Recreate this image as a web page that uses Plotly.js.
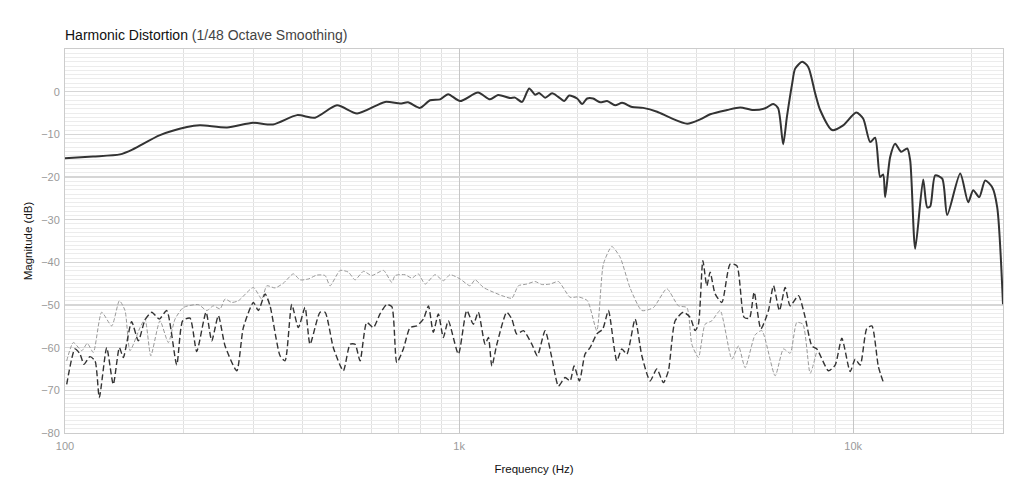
<!DOCTYPE html>
<html><head><meta charset="utf-8">
<script src="https://cdn.plot.ly/plotly-3.0.1.min.js"></script>
<style>html,body{margin:0;padding:0;background:#fff}#chart{width:1024px;height:502px}</style>
</head><body><div id="chart"></div>
<script>
// Fundamental (solid)
const mainFreq=[100,117.8,137.9,148.8,174.2,204,220,257.8,300,337,388,431,490,551,649,709,742,796,844,895,938,1006,1117,1198,1256,1347,1387,1445,1506,1559,1596,1654,1722,1784,1848,1902,1993,2052,2113,2188,2280,2375,2489,2593,2748,2931,3180,3432,3791,4090,4337,4789,5168,5576,5980,6267,6451,6643,6790,7002,7126,7424,7689,8010,8246,8845,9432,10177,10600,11044,11370,11707,11915,12056,12413,12782,13238,13711,13954,14369,15057,15413,15685,16151,16826,17325,18690,19584,20165,20890,21627,22532,23203,24000];
const mainDb=[-15.6,-15.2,-14.7,-13.5,-10.2,-8.3,-7.9,-8.4,-7.3,-7.7,-5.5,-6.1,-3.2,-5.1,-2.4,-2.8,-2.5,-3.8,-2.0,-1.8,-0.6,-2.2,-0.2,-1.8,-0.8,-1.5,-1.4,-2.4,0.75,-0.7,-0.3,-1.4,-0.4,-1.2,-2.2,-0.9,-1.6,-2.9,-1.6,-1.6,-2.5,-2.2,-3.2,-2.6,-3.6,-3.8,-4.7,-6.1,-7.5,-6.5,-5.3,-4.3,-3.7,-4.3,-3.9,-2.9,-3.9,-12.3,-5.9,1.9,5.4,7.0,5.8,-0.4,-4.3,-9.0,-7.9,-4.9,-6.3,-11.8,-10.8,-20.0,-19.4,-24.7,-15.3,-12.2,-14.1,-13.3,-16.1,-36.8,-20.6,-27.1,-26.9,-19.6,-20.4,-28.9,-19.2,-25.9,-23.1,-24.7,-20.8,-22.4,-27.1,-49.8];

// 2nd harmonic (dark dashed)
const h2Freq=[101,106,109.2,111.7,115.7,119.2,122.2,127.6,132.6,137.4,140.6,147.6,153.5,159.6,166,173.5,181.2,192.1,198.9,207.6,215.9,228,235.7,245,254.8,272.8,283.5,300.6,309.5,321.9,331.4,351.3,361.7,376.2,391,406.5,418.6,443.8,457,479.7,508.5,528.9,544.6,560.7,583,606,630,655,675,695,722,751,781,812,836,860,886,912,939,996,1046,1087,1119,1164,1187,1211,1247,1321,1361,1401,1456,1530,1580,1653,1719,1787,1858,1913,1958,2020,2088,2150,2236,2316,2393,2513,2588,2665,2797,2909,3053,3175,3300,3398,3534,3709,3858,3972,4049,4155,4253,4336,4464,4643,4874,5068,5289,5455,5607,5831,6096,6277,6500,6721,6920,7264,7554,7857,8089,8656,9001,9361,9826,10120,10420,10830,11155,11590,11940];
const h2Db=[-68.6,-60.3,-61.5,-63.9,-62.1,-63.1,-71.7,-60.0,-68.6,-60.0,-62.3,-53.9,-58.4,-53.5,-51.7,-53.3,-51.3,-64.0,-53.7,-53.1,-60.9,-51.7,-58.4,-52.5,-59.6,-65.4,-55.3,-49.4,-51.3,-47.4,-50.2,-61.9,-63.1,-49.9,-55.3,-50.6,-59.2,-51.7,-51.7,-60.0,-65.4,-59.2,-59.2,-63.1,-54.1,-55.3,-52.1,-49.9,-50.4,-63.5,-60.3,-55.3,-54.9,-53.3,-50.2,-56.4,-52.1,-57.6,-53.7,-61.5,-51.3,-54.5,-51.7,-59.2,-57.6,-64.3,-59.2,-51.7,-53.3,-56.8,-56.0,-59.2,-61.9,-56.0,-62.3,-69.0,-67.0,-67.8,-64.3,-67.8,-61.5,-60.0,-56.8,-55.6,-51.3,-63.1,-60.3,-61.5,-53.3,-61.9,-67.8,-65.0,-68.2,-65.4,-53.7,-51.7,-52.9,-56.0,-54.5,-39.6,-45.5,-42.3,-47.4,-49.4,-40.4,-40.8,-52.9,-53.1,-47.0,-55.6,-51.3,-45.5,-51.3,-45.9,-50.2,-47.8,-52.9,-59.6,-60.3,-65.4,-64.1,-57.8,-65.6,-62.7,-64.1,-55.5,-54.9,-64.5,-68.2];

// 3rd harmonic (light dashed)
const h3Freq=[101,105,110.3,113.9,118,123.9,131.4,137.4,142,146.2,155,159.6,165.1,174.2,182.9,190.2,199.6,217.9,229,237.9,247.5,254.8,264.9,275.4,300.6,315.7,325.1,341.2,358.1,379.7,394.9,414.5,435.3,457,470.6,498.9,523.7,544.6,572,600,643,675,688,729,759,788,820,869,912,949,1006,1066,1098,1153,1222,1284,1361,1414,1485,1559,1621,1702,1787,1913,2008,2117,2236,2324,2441,2562,2716,2909,3113,3366,3603,3784,3896,4049,4211,4379,4597,4923,5116,5320,5640,5865,6339,6654,6920,7195,7454,7779,8089];
const h3Db=[-63.1,-58.8,-60.7,-59.0,-61.1,-51.7,-54.9,-49.0,-51.3,-60.7,-55.3,-53.3,-61.9,-53.7,-58.8,-53.3,-50.6,-49.9,-51.3,-50.2,-50.9,-48.6,-49.4,-49.0,-45.9,-48.6,-45.5,-46.0,-44.9,-42.7,-44.1,-43.9,-43.0,-43.1,-45.5,-41.9,-42.3,-44.1,-42.1,-43.1,-41.9,-44.7,-43.1,-42.9,-43.7,-42.7,-45.1,-42.9,-44.3,-42.9,-43.9,-45.5,-44.1,-45.9,-47.0,-47.8,-48.4,-45.5,-45.1,-44.5,-45.2,-45.1,-44.5,-48.2,-48.1,-49.0,-56.0,-40.4,-36.3,-38.8,-46.0,-51.3,-50.6,-46.2,-50.2,-50.6,-59.2,-62.3,-54.5,-53.7,-51.3,-62.7,-59.6,-64.7,-57.0,-56.0,-66.6,-60.3,-61.3,-54.1,-54.5,-66.0,-60.7];

const xTickVals=[100,1000,10000];
const xTickText=['100','1k','10k'];
const yTickVals=[-80,-70,-60,-50,-40,-30,-20,-10,0];

const minorX=[];
for(let d=100; d<=10000; d*=10){ for(let k=2;k<=9;k++){ if(d*k<24000) minorX.push(d*k); } }

const FONT='"Liberation Sans", Arial, Helvetica, sans-serif';

const traces=[
  {x:h3Freq,y:h3Db,type:'scatter',mode:'lines',line:{color:'#9a9a9a',width:1,dash:'4px,2px',shape:'spline',smoothing:0.6},hoverinfo:'skip'},
  {x:h2Freq,y:h2Db,type:'scatter',mode:'lines',line:{color:'#333333',width:1.4,dash:'6px,3px',shape:'spline',smoothing:0.6},hoverinfo:'skip'},
  {x:mainFreq,y:mainDb,type:'scatter',mode:'lines',line:{color:'#333333',width:2,shape:'spline',smoothing:0.7},hoverinfo:'skip'}
];

const layout={
  width:1024,height:502,
  margin:{l:65,r:21,t:49,b:69},
  paper_bgcolor:'#fff',plot_bgcolor:'#fff',
  showlegend:false,
  font:{family:FONT,color:'#111'},
  title:{text:'Harmonic Distortion <span style="color:#444">(1/48 Octave Smoothing)</span>',
    font:{family:FONT,size:14,color:'#111'},x:0,xref:'paper',xanchor:'left',yref:'container',y:0.930,yanchor:'middle'},
  xaxis:{type:'log',range:[2,Math.log10(24000)],tickmode:'array',tickvals:xTickVals,ticktext:xTickText,
    showgrid:true,gridcolor:'#c6c6c6',gridwidth:1,
    minor:{tickmode:'array',tickvals:minorX,showgrid:true,gridcolor:'#e0e0e0',gridwidth:1,ticks:''},
    showline:true,linecolor:'#cccccc',linewidth:1,mirror:true,ticks:'',zeroline:false,
    tickfont:{family:FONT,size:11,color:'#9a9a9a'},ticklabelstandoff:3,
    title:{text:'Frequency (Hz)',font:{family:FONT,size:11.5,color:'#111'},standoff:13}},
  yaxis:{range:[-80,10],tickmode:'array',tickvals:yTickVals,
    showgrid:true,gridcolor:'#d6d6d6',gridwidth:1.6,
    minor:{dtick:1,tick0:0,showgrid:true,gridcolor:'#ececec',gridwidth:1,ticks:''},
    showline:true,linecolor:'#cccccc',linewidth:1,mirror:true,ticks:'',zeroline:false,
    tickfont:{family:FONT,size:11,color:'#9a9a9a'},ticklabelstandoff:2,
    title:{text:'Magnitude (dB)',font:{family:FONT,size:11.5,color:'#111'},standoff:6}}
};
Plotly.newPlot('chart',traces,layout,{displayModeBar:false,staticPlot:true});
</script></body></html>
